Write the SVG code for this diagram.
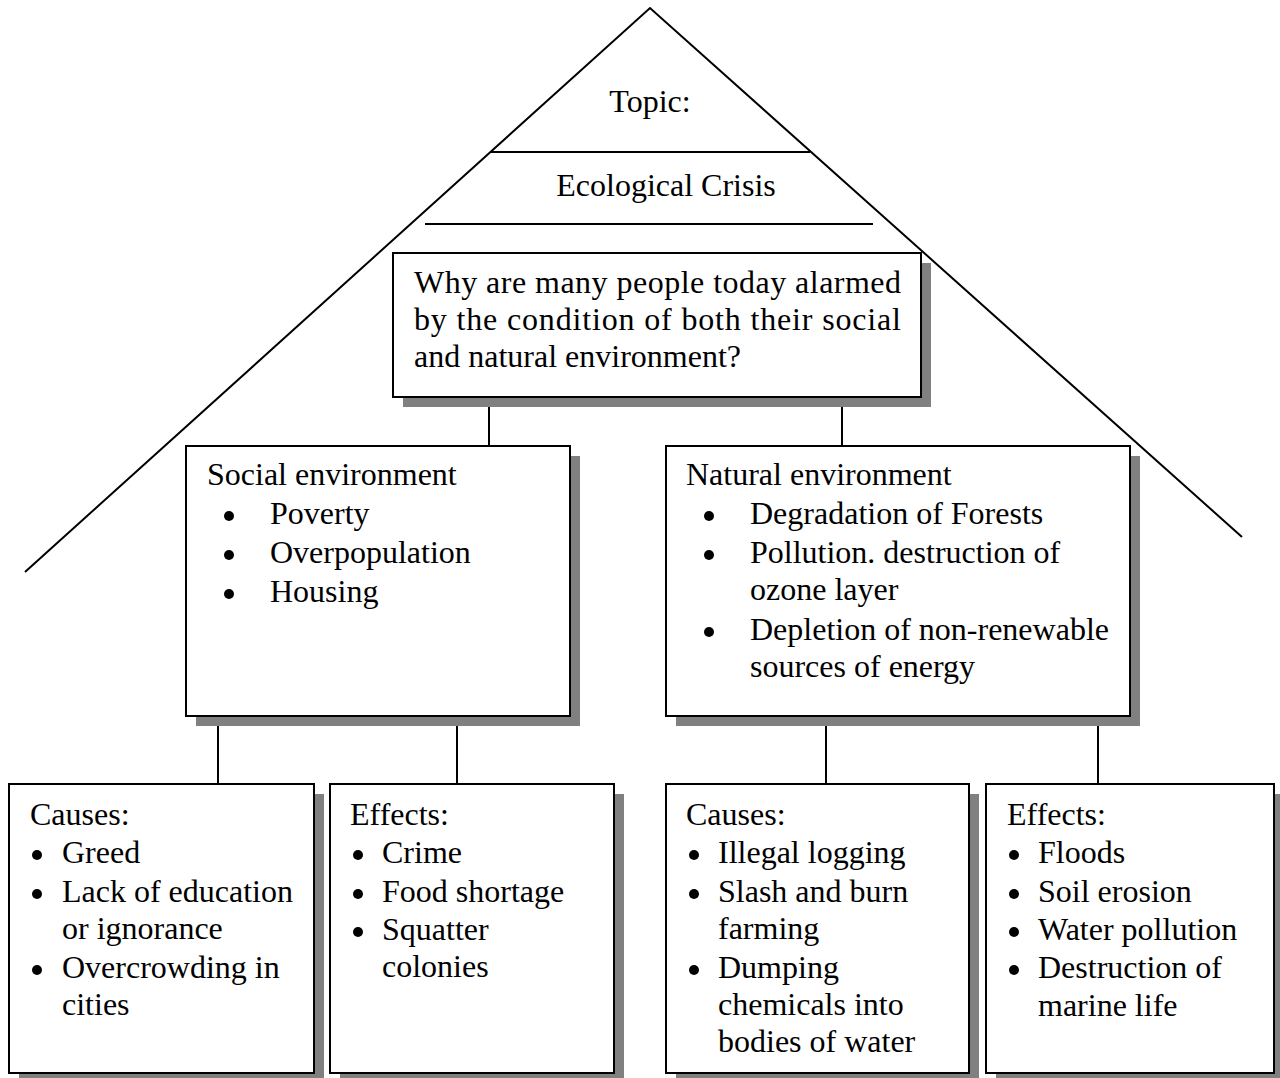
<svg xmlns="http://www.w3.org/2000/svg" width="1280" height="1078" viewBox="0 0 1280 1078">
<style>
  text { font-family: "Liberation Serif", "Times New Roman", serif; font-size: 32px; fill: #000; }
  .box { fill: #fff; stroke: #000; stroke-width: 2; }
  .shadow { fill: #808080; }
  .ln { stroke: #000; stroke-width: 2; fill: none; }
  .b { fill: #000; }
</style>
<rect width="1280" height="1078" fill="#fff"/>
<g id="roof">
  <polyline class="ln" points="25,572 650,8 1242,537"/>
  <line class="ln" x1="490" y1="152" x2="810" y2="152"/>
  <line class="ln" x1="425" y1="224" x2="873" y2="224"/>
  <text x="650" y="112" text-anchor="middle">Topic:</text>
  <text x="666" y="196" text-anchor="middle">Ecological Crisis</text>
</g>
<g id="connectors">
  <line class="ln" x1="489" y1="402" x2="489" y2="452"/>
  <line class="ln" x1="842" y1="397" x2="842" y2="446"/>
  <line class="ln" x1="218" y1="716" x2="218" y2="788"/>
  <line class="ln" x1="457" y1="716" x2="457" y2="785"/>
  <line class="ln" x1="826" y1="716" x2="826" y2="785"/>
  <line class="ln" x1="1098" y1="716" x2="1098" y2="785"/>
</g>
<g id="question">
  <rect class="shadow" x="403" y="263" width="528" height="144"/>
  <rect class="box" x="393" y="253" width="528" height="144"/>
  <text x="414" y="293" textLength="487" lengthAdjust="spacing">Why are many people today alarmed</text>
  <text x="414" y="330" textLength="487" lengthAdjust="spacing">by the condition of both their social</text>
  <text x="414" y="367">and natural environment?</text>
</g>
<g id="social">
  <rect class="shadow" x="196" y="456" width="384" height="270"/>
  <rect class="box" x="186" y="446" width="384" height="270"/>
  <text x="207" y="485">Social environment</text>
  <circle class="b" cx="229" cy="516" r="5"/>
  <text x="270" y="524">Poverty</text>
  <circle class="b" cx="229" cy="555" r="5"/>
  <text x="270" y="563">Overpopulation</text>
  <circle class="b" cx="229" cy="594" r="5"/>
  <text x="270" y="602">Housing</text>
</g>
<g id="natural">
  <rect class="shadow" x="676" y="456" width="464" height="270"/>
  <rect class="box" x="666" y="446" width="464" height="270"/>
  <text x="686" y="485">Natural environment</text>
  <circle class="b" cx="709" cy="516" r="5"/>
  <text x="750" y="524">Degradation of Forests</text>
  <circle class="b" cx="709" cy="555" r="5"/>
  <text x="750" y="563">Pollution. destruction of</text>
  <text x="750" y="600">ozone layer</text>
  <circle class="b" cx="709" cy="632" r="5"/>
  <text x="750" y="640">Depletion of non-renewable</text>
  <text x="750" y="677">sources of energy</text>
</g>
<g id="social-causes">
  <rect class="shadow" x="19" y="794" width="305" height="290"/>
  <rect class="box" x="9" y="784" width="305" height="289"/>
  <text x="30" y="825">Causes:</text>
  <circle class="b" cx="37" cy="855" r="5"/>
  <text x="62" y="863">Greed</text>
  <circle class="b" cx="37" cy="894" r="5"/>
  <text x="62" y="902">Lack of education</text>
  <text x="62" y="939">or ignorance</text>
  <circle class="b" cx="37" cy="970" r="5"/>
  <text x="62" y="978">Overcrowding in</text>
  <text x="62" y="1015">cities</text>
</g>
<g id="social-effects">
  <rect class="shadow" x="340" y="794" width="284" height="290"/>
  <rect class="box" x="330" y="784" width="284" height="289"/>
  <text x="350" y="825">Effects:</text>
  <circle class="b" cx="358" cy="855" r="5"/>
  <text x="382" y="863">Crime</text>
  <circle class="b" cx="358" cy="894" r="5"/>
  <text x="382" y="902">Food shortage</text>
  <circle class="b" cx="358" cy="932" r="5"/>
  <text x="382" y="940">Squatter</text>
  <text x="382" y="977">colonies</text>
</g>
<g id="natural-causes">
  <rect class="shadow" x="676" y="794" width="303" height="290"/>
  <rect class="box" x="666" y="784" width="303" height="289"/>
  <text x="686" y="825">Causes:</text>
  <circle class="b" cx="694" cy="855" r="5"/>
  <text x="718" y="863">Illegal logging</text>
  <circle class="b" cx="694" cy="894" r="5"/>
  <text x="718" y="902">Slash and burn</text>
  <text x="718" y="939">farming</text>
  <circle class="b" cx="694" cy="970" r="5"/>
  <text x="718" y="978">Dumping</text>
  <text x="718" y="1015">chemicals into</text>
  <text x="718" y="1052">bodies of water</text>
</g>
<g id="natural-effects">
  <rect class="shadow" x="996" y="794" width="288" height="290"/>
  <rect class="box" x="986" y="784" width="288" height="289"/>
  <text x="1007" y="825">Effects:</text>
  <circle class="b" cx="1014" cy="855" r="5"/>
  <text x="1038" y="863">Floods</text>
  <circle class="b" cx="1014" cy="894" r="5"/>
  <text x="1038" y="902">Soil erosion</text>
  <circle class="b" cx="1014" cy="932" r="5"/>
  <text x="1038" y="940">Water pollution</text>
  <circle class="b" cx="1014" cy="970" r="5"/>
  <text x="1038" y="978">Destruction of</text>
  <text x="1038" y="1016">marine life</text>
</g>
</svg>
